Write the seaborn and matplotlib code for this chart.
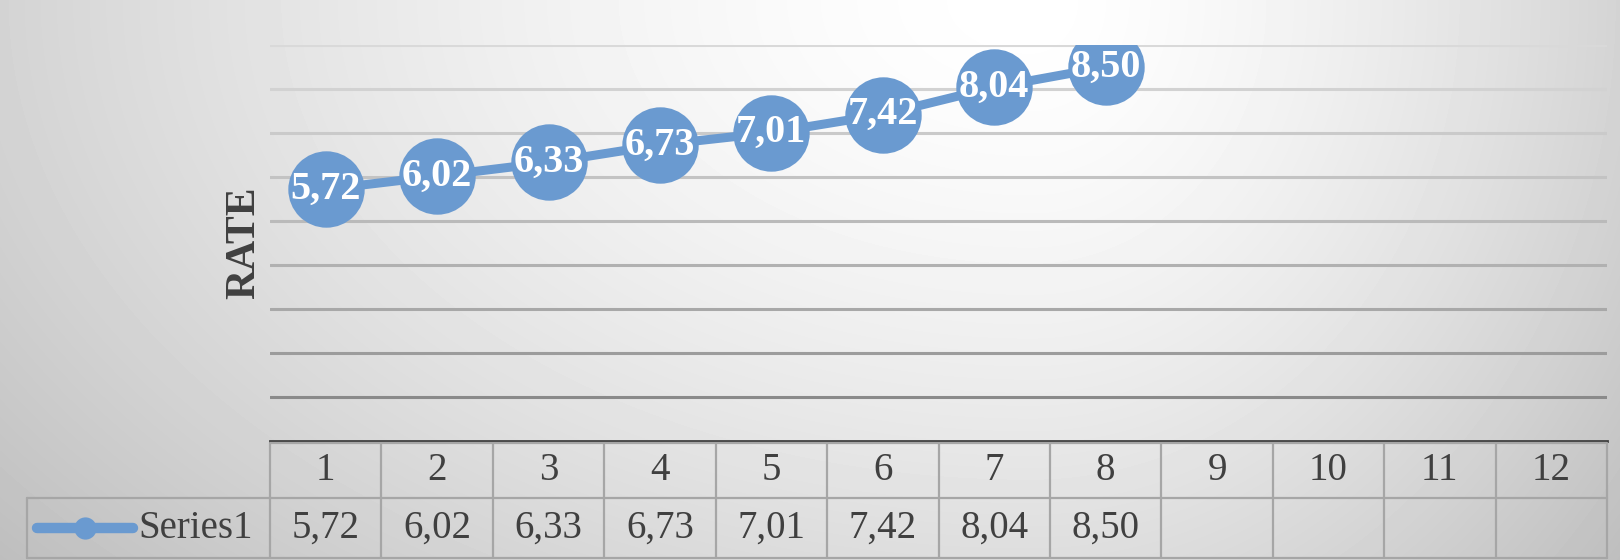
import numpy as np
import matplotlib
matplotlib.use("Agg")
import matplotlib.pyplot as plt
import matplotlib.transforms as mtransforms
from matplotlib.lines import Line2D
import seaborn as sns
import pandas as pd

# ---------------- data ----------------
categories = list(range(1, 13))
values = [5.72, 6.02, 6.33, 6.73, 7.01, 7.42, 8.04, 8.50]
series_name = "Series1"
y_label = "RATE"
value_labels = [f"{v:.2f}".replace(".", ",") for v in values]

# ---------------- style ----------------
W, H = 1620, 560
BLUE = "#6A9AD0"
TXT = "#404040"
BORDER = "#A6A6A6"

sns.set_theme(style="white")
plt.rcParams["font.family"] = ["Liberation Serif", "DejaVu Serif"]

fig = plt.figure(figsize=(W / 100, H / 100), dpi=100)

# background radial gradient (white near top centre, grey at the edges)
bg = fig.add_axes([0, 0, 1, 1], zorder=-10)
yy, xx = np.mgrid[0:H, 0:W]
cx = 1030
dx = np.where(xx < cx, (xx - cx) / cx, (xx - cx) / (W - cx))
dy = yy / H * 0.85
r = np.sqrt(dx ** 2 + dy ** 2)
g = np.clip(1 - 0.17 * r ** 1.5, 0, 1)
bg.imshow(g, cmap="gray", vmin=0, vmax=1, aspect="auto", extent=[0, W, H, 0])
bg.axis("off")

# main plot area
px_left, px_right, px_top, px_axis = 270, 1607, 45, 441
ax = fig.add_axes([px_left / W, (H - px_axis) / H,
                   (px_right - px_left) / W, (px_axis - px_top) / H])
ax.set_facecolor("none")
ax.set_xlim(0.5, len(categories) + 0.5)
ax.set_ylim(0, 9)

# gridlines (gradient: darker towards the bottom)
for v in range(1, 10):
    level = 0.54 + ((v - 1) / 8) ** 0.7 * 0.31
    ax.axhline(v, color=(level, level, level), lw=2.2, zorder=0)

df = pd.DataFrame({"x": categories[:len(values)], "y": values})
sns.lineplot(data=df, x="x", y="y", ax=ax, color=BLUE, lw=6.5, marker="o",
             markersize=55, markeredgewidth=0, legend=False, zorder=3)

for x, v, lab in zip(df["x"], values, value_labels):
    ax.text(x, v, lab, color="white", fontsize=29, fontweight="bold",
            ha="center", va="center", zorder=5)

for s in ["top", "right", "left"]:
    ax.spines[s].set_visible(False)
ax.spines["bottom"].set_color(TXT)
ax.spines["bottom"].set_linewidth(2.0)
ax.set_xticks([])
ax.set_yticks([])
ax.set_xlabel("")
ax.set_ylabel(y_label, fontsize=30, fontweight="bold", color=TXT)
ax.yaxis.set_label_coords(-0.005, 0.5)

# ---------------- data table ----------------
trans = mtransforms.blended_transform_factory(ax.transData, fig.transFigure)
y_head_top = (H - 443) / H
y_split = (H - 498) / H
y_bottom = (H - 558) / H
x_tab_left = 27 / W
x_tab_right = px_right / W

for b in np.arange(0.5, len(categories) + 1.0, 1.0):
    ax.plot([b, b], [y_bottom, y_head_top], transform=trans, color=BORDER,
            lw=1.6, clip_on=False, zorder=1)
for yv in (y_head_top, y_split, y_bottom):
    x0 = px_left / W if yv == y_head_top else x_tab_left
    fig.add_artist(Line2D([x0, x_tab_right], [yv, yv], color=BORDER, lw=1.6))
fig.add_artist(Line2D([x_tab_left, x_tab_left], [y_bottom, y_split],
                      color=BORDER, lw=1.6))

y_head_mid = (y_head_top + y_split) / 2
y_val_mid = (y_split + y_bottom) / 2
for c in categories:
    ax.text(c, y_head_mid, str(c), transform=trans, ha="center", va="center",
            fontsize=28, color=TXT, clip_on=False)
for c, lab in zip(categories, value_labels):
    ax.text(c, y_val_mid, lab, transform=trans, ha="center", va="center",
            fontsize=28, color=TXT, clip_on=False)

# legend key in the table
fig.add_artist(Line2D([37 / W, 85 / W, 133 / W], [y_val_mid] * 3, color=BLUE,
                      lw=7.5, solid_capstyle="round", marker="o", markersize=16,
                      markevery=[1], markeredgewidth=0))
fig.text(138 / W, y_val_mid, series_name, ha="left", va="center",
         fontsize=28, color=TXT)

fig.savefig("out.png", dpi=100)
